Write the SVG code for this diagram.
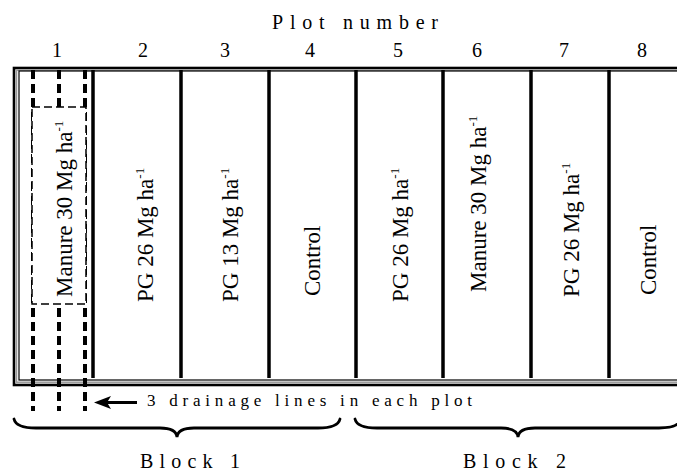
<svg xmlns="http://www.w3.org/2000/svg" width="677" height="473" viewBox="0 0 677 473">
<style>
text { font-family: "Liberation Serif", "Times New Roman", serif; fill: #000; }
.num { font-size: 20px; text-anchor: middle; }
.lab { font-size: 23px; }
.sup { font-size: 13px; }
.div { stroke: #000; stroke-width: 3.5; fill: none; }
.drain { stroke: #000; stroke-width: 4; stroke-dasharray: 9 5; fill: none; }
.brace { stroke: #000; stroke-width: 2.8; fill: none; stroke-linecap: round; }
</style>
<rect width="677" height="473" fill="#fff"/>
<g id="titles">
<text x="272" y="29" font-size="20" textLength="166" lengthAdjust="spacing">Plot number</text>
<text class="num" x="57" y="57">1</text>
<text class="num" x="143" y="57">2</text>
<text class="num" x="225" y="57">3</text>
<text class="num" x="310" y="57">4</text>
<text class="num" x="398" y="57">5</text>
<text class="num" x="477" y="57">6</text>
<text class="num" x="564" y="57">7</text>
<text class="num" x="642" y="57">8</text>
</g>
<g id="frame">
<rect x="14" y="68" width="700" height="317" fill="none" stroke="#000" stroke-width="2.6"/>
<rect x="16.5" y="70.2" width="700" height="312" fill="none" stroke="#999" stroke-width="1.5"/>
<rect x="19" y="71" width="700" height="309" fill="none" stroke="#000" stroke-width="1.2"/>
</g>
<g id="dividers">
<line class="div" x1="93" y1="70" x2="93" y2="378"/>
<line class="div" x1="181" y1="70" x2="181" y2="378"/>
<line class="div" x1="269" y1="70" x2="269" y2="378"/>
<line class="div" x1="356" y1="70" x2="356" y2="378"/>
<line class="div" x1="443" y1="70" x2="443" y2="378"/>
<line class="div" x1="531" y1="70" x2="531" y2="378"/>
<line class="div" x1="609" y1="70" x2="609" y2="378"/>
</g>
<g id="drainage">
<line class="drain" x1="33" y1="70" x2="33" y2="411"/>
<line class="drain" x1="59" y1="70" x2="59" y2="411"/>
<line class="drain" x1="85" y1="70" x2="85" y2="411"/>
<rect x="32" y="107" width="54" height="197" fill="#fff" stroke="#000" stroke-width="1.5" stroke-dasharray="8 4"/>
</g>
<g id="plot1"><text class="lab" transform="translate(72,297) rotate(-90)">Manure 30 Mg ha<tspan class="sup" dy="-9">-1</tspan></text></g>
<g id="plot2"><text class="lab" transform="translate(153,302) rotate(-90)">PG 26 Mg ha<tspan class="sup" dy="-9">-1</tspan></text></g>
<g id="plot3"><text class="lab" transform="translate(238,302) rotate(-90)">PG 13 Mg ha<tspan class="sup" dy="-9">-1</tspan></text></g>
<g id="plot4"><text class="lab" transform="translate(320,296) rotate(-90)">Control</text></g>
<g id="plot5"><text class="lab" transform="translate(408,302) rotate(-90)">PG 26 Mg ha<tspan class="sup" dy="-9">-1</tspan></text></g>
<g id="plot6"><text class="lab" transform="translate(486,292) rotate(-90)">Manure 30 Mg ha<tspan class="sup" dy="-9">-1</tspan></text></g>
<g id="plot7"><text class="lab" transform="translate(579,297) rotate(-90)">PG 26 Mg ha<tspan class="sup" dy="-9">-1</tspan></text></g>
<g id="plot8"><text class="lab" transform="translate(656,295) rotate(-90)">Control</text></g>
<g id="connectors">
<line x1="106" y1="402.5" x2="137" y2="402.5" stroke="#000" stroke-width="3"/>
<polygon points="94,402.5 111,396 107,402.5 111,409" fill="#000"/>
</g>
<g id="drainage-label">
<text x="147" y="406" font-size="17" textLength="325" lengthAdjust="spacing">3 drainage lines in each plot</text>
</g>
<g id="block1">
<path class="brace" d="M14,419 Q16,428 36,428 L160,428 Q176,428 177,437 Q178,428 194,428 L318,428 Q338,428 340,419"/>
<text x="140" y="468" font-size="20" textLength="100" lengthAdjust="spacing">Block 1</text>
</g>
<g id="block2">
<path class="brace" d="M355,419 Q357,428 377,428 L501,428 Q517,428 518,437 Q519,428 535,428 L659,428 Q679,428 681,419"/>
<text x="463" y="468" font-size="20" textLength="103" lengthAdjust="spacing">Block 2</text>
</g>
</svg>
